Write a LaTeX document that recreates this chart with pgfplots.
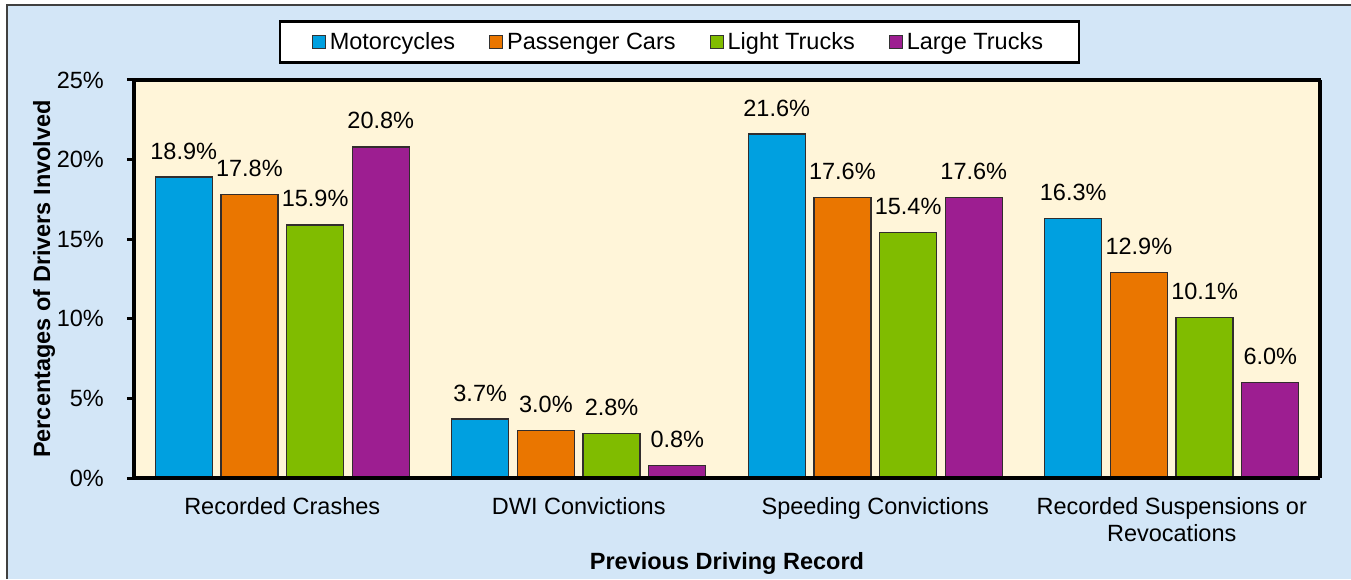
\documentclass[border=0pt]{standalone}
\usepackage{fontspec}
\setmainfont{Liberation Sans}
\usepackage{pgfplots}
\pgfplotsset{compat=1.18}
\newcommand\F{\fontsize{23.5}{27}\selectfont}
\definecolor{bgblue}{RGB}{211,230,247}
\definecolor{cream}{RGB}{255,245,217}
\definecolor{cMoto}{RGB}{0,160,224}
\definecolor{cCar}{RGB}{234,118,0}
\definecolor{cLight}{RGB}{128,188,0}
\definecolor{cLarge}{RGB}{157,30,145}
\definecolor{edge}{RGB}{50,45,45}
\begin{document}
\begin{tikzpicture}[font=\F]
\useasboundingbox (0pt,0pt) rectangle (1351pt,579pt);
\fill[bgblue] (7pt,0pt) rectangle (1351pt,574pt);
\draw[black!75, line width=1.5pt] (7pt,0pt) -- (7pt,574pt) -- (1351pt,574pt);
\begin{axis}[
  at={(134pt,101pt)}, anchor=south west,
  scale only axis, width=1186pt, height=398pt,
  xmin=-0.5, xmax=3.5, ymin=0, ymax=25,
  axis background/.style={fill=cream},
  separate axis lines,
  axis line style={black, line width=3.5pt},
  tick pos=left,
  ybar=8.7pt, bar width=57pt,
  xtick={0,1,2,3},
  xticklabels={Recorded Crashes, DWI Convictions, Speeding Convictions, {Recorded Suspensions or\\Revocations}},
  xticklabel style={font=\F, align=center, anchor=north, inner sep=0pt, yshift=-12pt},
  x tick style={draw=none},
  extra x ticks={-0.5,0.5,1.5,2.5,3.5},
  extra x tick labels={},
  extra x tick style={tick align=outside, major tick length=9pt, tick style={black, line width=3pt}, grid=none},
  ytick={0,5,10,15,20,25},
  yticklabel={\pgfmathprintnumber{\tick}\%},
  yticklabel style={font=\F, anchor=east, inner sep=0pt, xshift=-23pt},
  y tick style={black, line width=3pt},
  tick align=outside, major tick length=7pt,
  /pgf/number format/assume math mode=true,
  xlabel={\textbf{Previous Driving Record}},
  xlabel style={font=\F, at={(axis description cs:0.5,-0.2136)}, anchor=center},
  ylabel={\textbf{Percentages of Drivers Involved}},
  ylabel style={font=\F, at={(axis description cs:-0.0759,0.5)}, anchor=center},
  nodes near coords={\pgfmathprintnumber[fixed,fixed zerofill,precision=1]{\pgfplotspointmeta}\%},
  nodes near coords style={font=\F, anchor=south, inner sep=0pt, yshift=17pt},
  every axis plot/.append style={draw=edge, line width=1.3pt},
  clip=false,
  legend columns=4,
  legend image code/.code={\draw[#1, draw=black!80, line width=1pt] (0pt,-6.5pt) rectangle (13pt,6.5pt);},
  legend style={at={(axis description cs:0.4599,1.0955)}, anchor=center, draw=black, line width=2.5pt, fill=white, font=\F,
    inner xsep=32pt, inner ysep=7pt,
    nodes={inner sep=4pt},
    /tikz/every even column/.append style={column sep=30pt}},
]
\addplot[fill=cMoto] coordinates {(0,18.9) (1,3.7) (2,21.6) (3,16.3)};
\addplot[fill=cCar] coordinates {(0,17.8) (1,3.0) (2,17.6) (3,12.9)};
\addplot[fill=cLight] coordinates {(0,15.9) (1,2.8) (2,15.4) (3,10.1)};
\addplot[fill=cLarge] coordinates {(0,20.8) (1,0.8) (2,17.6) (3,6.0)};
\legend{Motorcycles, Passenger Cars, Light Trucks, Large Trucks}
\draw[black, line width=4.5pt] (rel axis cs:0,0) -- (rel axis cs:1,0);
\draw[black, line width=4.5pt] (rel axis cs:0,0) -- (rel axis cs:0,1);
\draw[black, line width=3pt] (rel axis cs:0,1) -- (rel axis cs:1,1) -- (rel axis cs:1,0);
\end{axis}
\end{tikzpicture}
\end{document}
